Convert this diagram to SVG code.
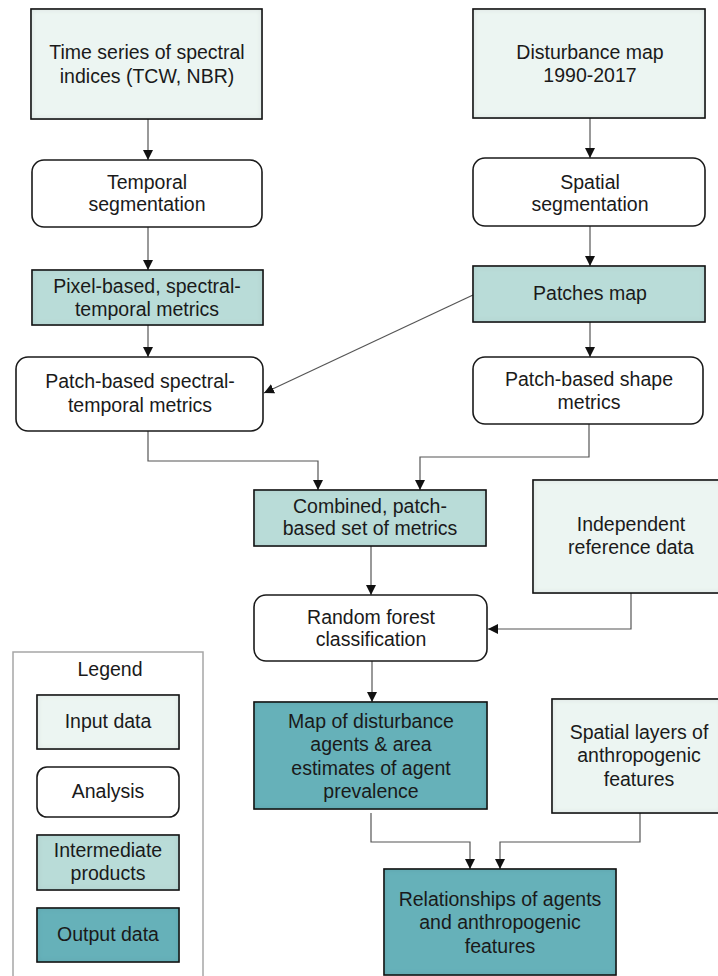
<svg xmlns="http://www.w3.org/2000/svg" width="718" height="976" viewBox="0 0 718 976">
<defs>
<style>
.t{font-family:"Liberation Sans",Arial,sans-serif;font-size:19.5px;fill:#1a1a1a;text-anchor:middle}
.box{stroke:#1a1a1a;stroke-width:1.6}
.inp{fill:#ecf5f2}
.ana{fill:#ffffff}
.mid{fill:#b9dcd8}
.out{fill:#66b1b9}
.c{fill:none;stroke:#555;stroke-width:1.2}
</style>
<marker id="ah" markerWidth="11" markerHeight="11" refX="10" refY="5.5" orient="auto" markerUnits="userSpaceOnUse">
<path d="M0,0.5 L10,5.5 L0,10.5 Z" fill="#111"/>
</marker>
<filter id="ish" x="-5%" y="-5%" width="110%" height="110%">
<feFlood flood-color="#000" flood-opacity="0.25" result="f"/>
<feComposite in="f" in2="SourceAlpha" operator="out" result="o"/>
<feGaussianBlur in="o" stdDeviation="3" result="b"/>
<feComposite in="b" in2="SourceAlpha" operator="in" result="s"/>
<feMerge><feMergeNode in="SourceGraphic"/><feMergeNode in="s"/></feMerge>
</filter>
</defs>

<g id="connectors">
<path class="c" d="M148,119 V160" marker-end="url(#ah)"/>
<path class="c" d="M148,227 V270" marker-end="url(#ah)"/>
<path class="c" d="M148,325 V357" marker-end="url(#ah)"/>
<path class="c" d="M590,118 V158" marker-end="url(#ah)"/>
<path class="c" d="M590,226 V266" marker-end="url(#ah)"/>
<path class="c" d="M590,322 V357" marker-end="url(#ah)"/>
<path class="c" d="M473,295 L264,393" marker-end="url(#ah)"/>
<path class="c" d="M148,431 V461 H318 V490" marker-end="url(#ah)"/>
<path class="c" d="M589,424 V457 H420 V490" marker-end="url(#ah)"/>
<path class="c" d="M371,546 V595" marker-end="url(#ah)"/>
<path class="c" d="M631,593 V629 H488" marker-end="url(#ah)"/>
<path class="c" d="M372,661 V702" marker-end="url(#ah)"/>
<path class="c" d="M371,813 V842 H470 V869" marker-end="url(#ah)"/>
<path class="c" d="M640,813 V842 H500 V869" marker-end="url(#ah)"/>
</g>

<g id="n1"><rect class="box inp" filter="url(#ish)" x="31" y="9" width="231" height="110"/>
<text class="t" x="147" y="59">Time series of spectral</text><text class="t" x="147" y="83">indices (TCW, NBR)</text></g>

<g id="n2"><rect class="box ana" x="32" y="160" width="230" height="67" rx="12"/>
<text class="t" x="147" y="189">Temporal</text><text class="t" x="147" y="211">segmentation</text></g>

<g id="n3"><rect class="box mid" filter="url(#ish)" x="32" y="270" width="231" height="55"/>
<text class="t" x="147" y="293">Pixel-based, spectral-</text><text class="t" x="147" y="316">temporal metrics</text></g>

<g id="n4"><rect class="box ana" x="16" y="357" width="247" height="74" rx="12"/>
<text class="t" x="140" y="388">Patch-based spectral-</text><text class="t" x="140" y="412">temporal metrics</text></g>

<g id="n5"><rect class="box inp" filter="url(#ish)" x="473" y="9" width="232" height="109"/>
<text class="t" x="590" y="59">Disturbance map</text><text class="t" x="590" y="82">1990-2017</text></g>

<g id="n6"><rect class="box ana" x="473" y="158" width="232" height="68" rx="12"/>
<text class="t" x="590" y="189">Spatial</text><text class="t" x="590" y="211">segmentation</text></g>

<g id="n7"><rect class="box mid" filter="url(#ish)" x="473" y="266" width="232" height="56"/>
<text class="t" x="590" y="300">Patches map</text></g>

<g id="n8"><rect class="box ana" x="473" y="357" width="230" height="67" rx="12"/>
<text class="t" x="589" y="386">Patch-based shape</text><text class="t" x="589" y="409">metrics</text></g>

<g id="n9"><rect class="box mid" filter="url(#ish)" x="254" y="490" width="232" height="56"/>
<text class="t" x="370" y="513">Combined, patch-</text><text class="t" x="370" y="535">based set of metrics</text></g>

<g id="n10"><rect class="box inp" filter="url(#ish)" x="533" y="480" width="190" height="113"/>
<text class="t" x="631" y="531">Independent</text><text class="t" x="631" y="554">reference data</text></g>

<g id="n11"><rect class="box ana" x="254" y="595" width="233" height="66" rx="12"/>
<text class="t" x="371" y="624">Random forest</text><text class="t" x="371" y="646">classification</text></g>

<g id="n12"><rect class="box out" filter="url(#ish)" x="254" y="702" width="233" height="107"/>
<text class="t" x="371" y="728">Map of disturbance</text><text class="t" x="371" y="751">agents &amp; area</text><text class="t" x="371" y="775">estimates of agent</text><text class="t" x="371" y="798">prevalence</text></g>

<g id="n13"><rect class="box inp" filter="url(#ish)" x="552" y="699" width="170" height="114"/>
<text class="t" x="639" y="739">Spatial layers of</text><text class="t" x="639" y="762">anthropogenic</text><text class="t" x="639" y="786">features</text></g>

<g id="n14"><rect class="box out" filter="url(#ish)" x="384" y="869" width="232" height="106"/>
<text class="t" x="500" y="906">Relationships of agents</text><text class="t" x="500" y="929">and anthropogenic</text><text class="t" x="500" y="953">features</text></g>

<g id="legend">
<rect x="13" y="652" width="190" height="330" fill="#fff" stroke="#a6a6a6" stroke-width="1.5"/>
<text class="t" x="110" y="676">Legend</text>
<rect class="box inp" filter="url(#ish)" x="37" y="695" width="142" height="54"/>
<text class="t" x="108" y="728">Input data</text>
<rect class="box ana" x="37" y="767" width="142" height="50" rx="10"/>
<text class="t" x="108" y="798">Analysis</text>
<rect class="box mid" filter="url(#ish)" x="37" y="835" width="142" height="55"/>
<text class="t" x="108" y="857">Intermediate</text><text class="t" x="108" y="880">products</text>
<rect class="box out" filter="url(#ish)" x="37" y="908" width="142" height="54"/>
<text class="t" x="108" y="941">Output data</text>
</g>
</svg>
